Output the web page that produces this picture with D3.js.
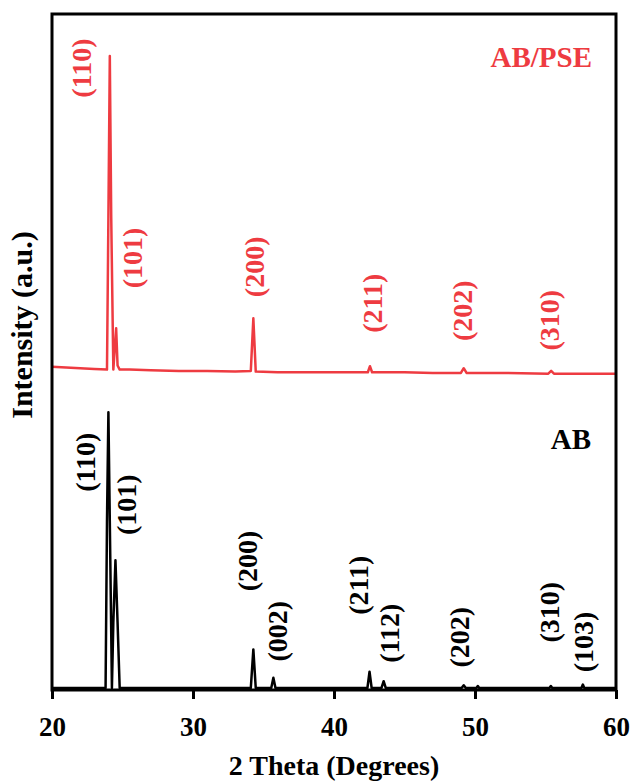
<!DOCTYPE html>
<html>
<head>
<meta charset="utf-8">
<script src="https://cdn.jsdelivr.net/npm/d3@7"></script>
<style>
  body { margin: 0; background: #fff; }
  text { font-family: "Liberation Serif", "Times New Roman", serif; font-weight: bold; }
</style>
</head>
<body>
<div id="chart"></div>
<script>
// SVG area
var svgWidth = 630;
var svgHeight = 781;

var margin = { top: 14, right: 14, bottom: 91, left: 52 };
var chartWidth = svgWidth - margin.left - margin.right;
var chartHeight = svgHeight - margin.top - margin.bottom;

var red = "#ee3b41";

// x axis ticks
var xTicks = [20, 30, 40, 50, 60];

// AB/PSE pattern (2theta, intensity a.u., already stacked above AB)
var pseTheta = [20, 21, 22, 23, 23.9, 24.0, 24.1, 24.2, 24.35, 24.55, 24.65, 24.8, 25.5, 27, 29, 31, 33, 34.1, 34.28, 34.45, 36, 38, 40, 42.4, 42.55, 42.7, 45, 47, 49.0, 49.2, 49.4, 52, 55.2, 55.4, 55.6, 58, 60];
var pseValue = [478, 477, 476, 475, 474, 700, 938, 700, 474, 535, 480, 474, 474, 473, 472, 472, 471, 472, 550, 471, 470, 470, 470, 470, 479, 470, 470, 469, 469, 476, 469, 469, 468, 472, 468, 468, 468];

// AB pattern
var abTheta = [20, 22, 23.8, 23.9, 24.0, 24.1, 24.25, 24.35, 24.5, 24.65, 24.8, 26, 30, 34.1, 34.28, 34.45, 35.55, 35.7, 35.85, 39, 42.37, 42.52, 42.67, 43.37, 43.52, 43.67, 46, 49.05, 49.2, 49.35, 50.1, 50.2, 50.3, 53, 55.28, 55.38, 55.48, 57.55, 57.65, 57.75, 60];
var abValue = [3, 3, 3, 250, 411, 250, 3, 100, 192, 100, 3, 3, 3, 3, 60, 3, 3, 18, 3, 3, 3, 27, 3, 3, 13, 3, 3, 3, 7, 3, 3, 6, 3, 3, 3, 6, 3, 3, 8, 3, 3];

// peak labels: text, 2theta, intensity where the label sits
var pseLabels = ["(110)", "(101)", "(200)", "(211)", "(202)", "(310)"];
var pseLabelTheta = [22.27, 25.89, 34.49, 42.88, 49.27, 55.45];
var pseLabelValue = [920, 639, 626, 572, 561, 547];

var abLabels = ["(110)", "(101)", "(200)", "(002)", "(211)", "(112)", "(202)", "(310)", "(103)"];
var abLabelTheta = [22.52, 25.47, 34.0, 36.13, 41.88, 44.09, 49.06, 55.45, 57.87];
var abLabelValue = [337, 274, 191, 87, 155, 84, 78, 115, 71];

var svg = d3.select("#chart").append("svg")
    .attr("width", svgWidth)
    .attr("height", svgHeight);

var chartGroup = svg.append("g")
    .attr("transform", `translate(${margin.left}, ${margin.top})`);

var xScale = d3.scaleLinear().domain([20, 60]).range([0, chartWidth]);
var yScale = d3.scaleLinear().domain([0, 1000]).range([chartHeight, 0]);

var line = d3.line()
    .x(d => xScale(d[0]))
    .y(d => yScale(d[1]));

// curves
chartGroup.append("path")
    .datum(d3.zip(pseTheta, pseValue))
    .attr("d", line)
    .attr("fill", "none")
    .attr("stroke", red)
    .attr("stroke-width", 2.5)
    .attr("stroke-linejoin", "round");

chartGroup.append("path")
    .datum(d3.zip(abTheta, abValue))
    .attr("d", line)
    .attr("fill", "none")
    .attr("stroke", "#000")
    .attr("stroke-width", 2.5)
    .attr("stroke-linejoin", "round");

// frame
chartGroup.append("rect")
    .attr("width", chartWidth)
    .attr("height", chartHeight)
    .attr("fill", "none")
    .attr("stroke", "#000")
    .attr("stroke-width", 3);

// x axis
var xAxis = chartGroup.append("g")
    .attr("transform", `translate(0, ${chartHeight})`)
    .call(d3.axisBottom(xScale).tickValues(xTicks).tickSize(9).tickFormat(d3.format("d")));
xAxis.select(".domain").remove();
xAxis.selectAll("line").attr("stroke-width", 3);
xAxis.selectAll("text")
    .attr("y", 46)
    .attr("dy", 0)
    .attr("font-size", 27)
    .attr("font-family", "Liberation Serif")
    .attr("font-weight", "bold")
    .attr("fill", "#000");

// axis titles
chartGroup.append("text")
    .attr("x", chartWidth / 2)
    .attr("y", chartHeight + 85)
    .attr("text-anchor", "middle")
    .attr("font-size", 28)
    .text("2 Theta (Degrees)");

chartGroup.append("text")
    .attr("transform", "rotate(-90)")
    .attr("x", 0 - 311)
    .attr("y", -20)
    .attr("text-anchor", "middle")
    .attr("font-size", 30)
    .text("Intensity (a.u.)");

// peak labels
function addLabels(texts, thetas, values, color) {
    chartGroup.selectAll(null)
        .data(d3.range(texts.length))
        .enter()
        .append("text")
        .attr("transform", i => `translate(${xScale(thetas[i])}, ${yScale(values[i])}) rotate(-90)`)
        .attr("text-anchor", "middle")
        .attr("dy", "0.26em")
        .attr("font-size", 28)
        .attr("fill", color)
        .text(i => texts[i]);
}
addLabels(pseLabels, pseLabelTheta, pseLabelValue, red);
addLabels(abLabels, abLabelTheta, abLabelValue, "#000");

// series names
chartGroup.append("text")
    .attr("x", 540)
    .attr("y", 53)
    .attr("text-anchor", "end")
    .attr("font-size", 29)
    .attr("fill", red)
    .text("AB/PSE");

chartGroup.append("text")
    .attr("x", 539)
    .attr("y", 435)
    .attr("text-anchor", "end")
    .attr("font-size", 29)
    .attr("fill", "#000")
    .text("AB");
</script>
</body>
</html>
